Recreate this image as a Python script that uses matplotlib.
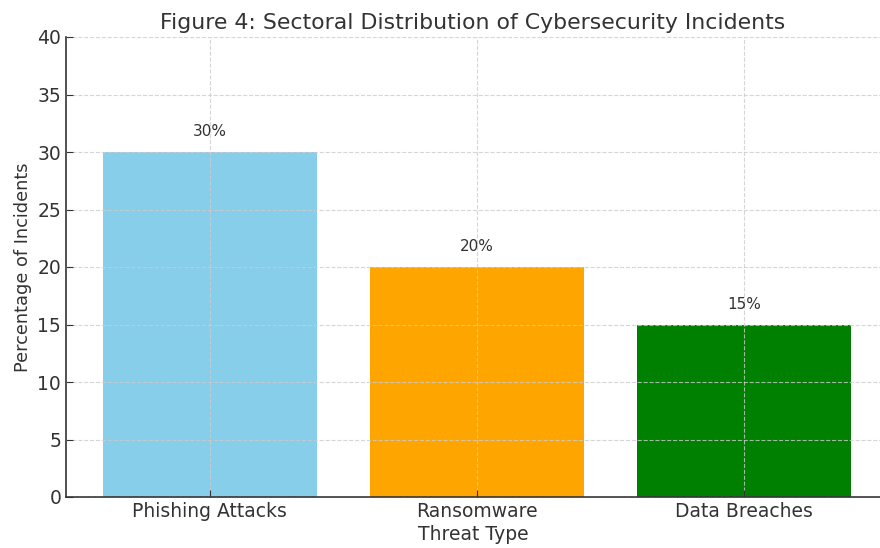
import matplotlib
matplotlib.use("Agg")
import matplotlib.pyplot as plt

threat_types = ["Phishing Attacks", "Ransomware", "Data Breaches"]
percentages = [30, 20, 15]
bar_colors = ["skyblue", "orange", "green"]
y_ticks = [0, 5, 10, 15, 20, 25, 30, 35, 40]

text_color = "#333333"
plt.rcParams["text.color"] = text_color
plt.rcParams["axes.labelcolor"] = text_color
plt.rcParams["xtick.color"] = text_color
plt.rcParams["ytick.color"] = text_color

fig = plt.figure(figsize=(8.8, 5.48), dpi=100)
ax = fig.add_axes([66 / 880, 51 / 548, 814 / 880, 460 / 548])

bars = ax.bar(threat_types, percentages, color=bar_colors, width=0.8, zorder=1)

for bar, val in zip(bars, percentages):
    ax.text(bar.get_x() + bar.get_width() / 2, val + 1.1, f"{val}%",
            ha="center", va="bottom", fontsize=11, color=text_color)

ax.set_xlim(-0.539, 2.51)
ax.set_ylim(0, 40)
ax.set_yticks(y_ticks)
ax.grid(True, linestyle="--", color="#cccccc", linewidth=0.8, alpha=0.8, zorder=2)
ax.set_axisbelow(False)

ax.spines["top"].set_visible(False)
ax.spines["right"].set_visible(False)
ax.spines["left"].set_color(text_color)
ax.spines["bottom"].set_color(text_color)
ax.spines["left"].set_linewidth(1.2)
ax.spines["bottom"].set_linewidth(1.2)
ax.tick_params(direction="in", length=5)
ax.tick_params(axis="x", labelsize=13.5)
ax.tick_params(axis="y", labelsize=13.5)

ax.set_title("Figure 4: Sectoral Distribution of Cybersecurity Incidents",
             fontsize=15.8, color=text_color, pad=6)
ax.set_xlabel("Threat Type", fontsize=13.5, labelpad=3)
ax.set_ylabel("Percentage of Incidents", fontsize=12.8)

fig.savefig("out.png", dpi=100)
